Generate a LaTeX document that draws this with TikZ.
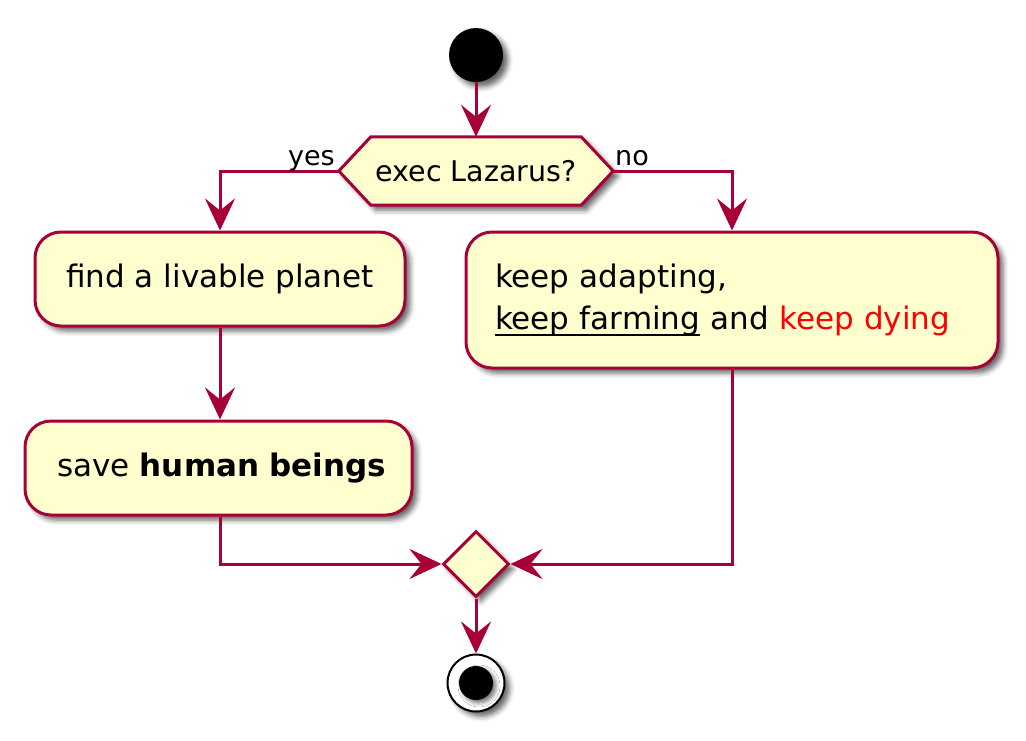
\documentclass[tikz,border=0pt]{standalone}
\usepackage{fontspec}
\setmainfont{DejaVu Sans}
\usetikzlibrary{arrows.meta,shapes.geometric,shadows.blur}
\definecolor{umlline}{HTML}{A80036}
\definecolor{umlfill}{HTML}{FEFECE}
\newsavebox\myulbox
\newcommand\myul[1]{\sbox\myulbox{#1}\rlap{\rule[-7pt]{\wd\myulbox}{2.2pt}}\usebox\myulbox}
\tikzset{
  shad/.style={blur shadow={shadow xshift=5pt,shadow yshift=-5pt,shadow blur radius=5pt,shadow opacity=60}},
  actbox/.style={draw=umlline,fill=umlfill,line width=3pt,rounded corners=26pt,shad,
    font=\fontsize{31}{42}\selectfont,inner sep=0pt},
  conn/.style={draw=umlline,line width=3pt,-{Stealth[length=32pt,width=30pt,inset=12pt]}},
  lbl/.style={font=\fontsize{27}{30}\selectfont,inner sep=0pt},
}
\begin{document}
\begin{tikzpicture}[x=1pt,y=-1pt]
\useasboundingbox (0,0) rectangle (1026,740);
% start
\node[circle,fill=black,minimum size=54pt,inner sep=0pt,shad] (start) at (476,55) {};
% decision hexagon
\node[minimum width=274pt,minimum height=68pt,inner sep=0pt] (hex) at (476,171) {};
\path[draw=umlline,fill=umlfill,line width=3pt,line join=miter,shad]
  (hex.west) -- ([xshift=32pt]hex.north west) -- ([xshift=-32pt]hex.north east)
  -- (hex.east) -- ([xshift=-32pt]hex.south east) -- ([xshift=32pt]hex.south west) -- cycle;
\node[font=\fontsize{28.5}{34}\selectfont,inner sep=0pt] (hextext) at (hex.center) {exec Lazarus?};
% boxes
\node[actbox,minimum width=370pt,minimum height=94pt] (box1) at (220,279) {find a livable planet};
\node[actbox,minimum width=532pt,minimum height=136pt,text width=474pt,align=left] (box2) at (732,300)
  {keep adapting,\\\mbox{\myul{keep farming} and \textcolor{red}{keep dying}}};
\node[actbox,minimum width=387pt,minimum height=94pt,text width=323pt,align=left] (box3) at (218.5,468)
  {\mbox{save \textbf{human beings}}};
% merge
\node[diamond,draw=umlline,fill=umlfill,line width=3pt,minimum width=66pt,minimum height=66pt,inner sep=0pt,shad] (merge) at (476,564) {};
% end
\node[circle,draw=black,line width=2pt,fill=white,minimum size=57pt,inner sep=0pt,shad] (end) at (476,683) {};
\node[circle,fill=black,minimum size=34pt,inner sep=0pt,blur shadow={shadow xshift=3pt,shadow yshift=-3pt,shadow blur radius=4pt,shadow opacity=55}] (endin) at (end.center) {};
% connectors
\draw[conn] (start) -- (hex.north);
\draw[conn] (hex.west) -| (box1.north);
\draw[conn] (hex.east) -| (box2.north);
\draw[conn] (box1.south) -- (box1.south |- box3.north);
\draw[conn] (box1.south |- box3.south) |- (merge.west);
\draw[conn] (box2.south) |- (merge.east);
\draw[conn] (merge.south) -- (end.north);
% labels
\node[lbl,anchor=base east] (yes) at (335,165) {yes};
\node[lbl,anchor=base west] (no) at (615,165) {no};
\end{tikzpicture}
\end{document}
